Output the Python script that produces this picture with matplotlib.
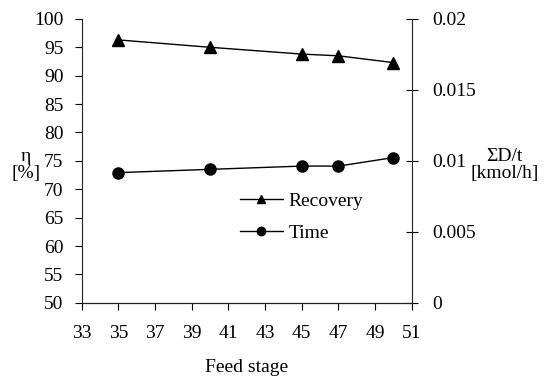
import numpy as np
import matplotlib.pyplot as plt

plt.rcParams['font.family'] = ['Liberation Serif', 'DejaVu Serif']
plt.rcParams['font.size'] = 14

# data
feed_stage = [35, 40, 45, 47, 50]
recovery = [96.3, 95.0, 93.8, 93.5, 92.3]
time_kmol = [0.00917, 0.0094, 0.00963, 0.00963, 0.01023]

fig = plt.figure(figsize=(5.44, 3.78), dpi=100)
ax = fig.add_axes([0.150, 0.199, 0.607, 0.751])
ax2 = ax.twinx()

l1, = ax.plot(feed_stage, recovery, color="black", lw=1, marker="^", ms=8, label="Recovery")
l2, = ax2.plot(feed_stage, time_kmol, color="black", lw=1, marker="o", ms=8, label="Time")

ax.set_xlim(33, 51)
ax.set_xticks(np.arange(33, 52, 2))
ax.set_ylim(50, 100)
ax.set_yticks(np.arange(50, 101, 5))
ax2.set_ylim(0, 0.02)
ax2.set_yticks([0, 0.005, 0.01, 0.015, 0.02])
ax2.set_yticklabels(["0", "0.005", "0.01", "0.015", "0.02"])

for a in (ax, ax2):
    a.spines['top'].set_visible(False)
    for s in a.spines.values():
        s.set_color("#222222")
ax.spines['right'].set_visible(False)
ax2.spines['left'].set_visible(False)
ax.tick_params(axis='x', direction='out', length=5, pad=11)
ax.tick_params(axis='y', direction='out', length=5, pad=8)
ax2.tick_params(axis='y', direction='inout', length=9, pad=10)

ax.set_xlabel("Feed stage", labelpad=12)
fig.text(0.047, 0.563, "η\n[%]", ha='center', va='center', linespacing=1.0)
fig.text(0.927, 0.563, "ΣD/t\n[kmol/h]", ha='center', va='center', linespacing=1.0)

ax.legend([l1, l2], ["Recovery", "Time"], frameon=False, loc='upper left',
          bbox_to_anchor=(0.48, 0.39), handlelength=2.2, handletextpad=0.3,
          labelspacing=0.75, markerscale=0.75, borderpad=0, borderaxespad=0)

fig.savefig("out.png", dpi=100)
